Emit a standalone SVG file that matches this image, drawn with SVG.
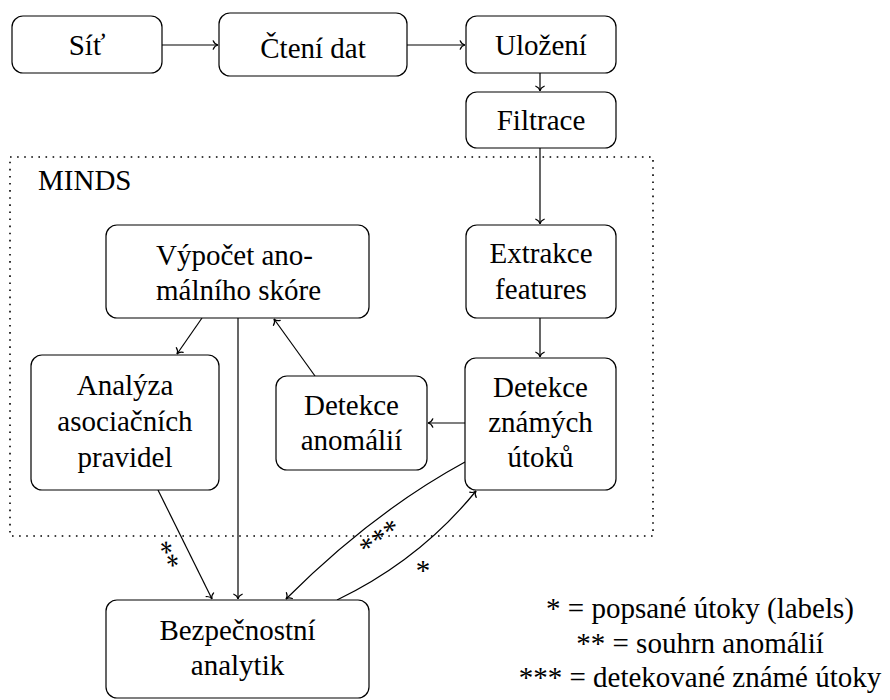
<svg xmlns="http://www.w3.org/2000/svg" width="890" height="700" viewBox="0 0 890 700">
<style>
  .box { fill: #ffffff; stroke: #000000; stroke-width: 1.2; }
  .t { font-family: "Liberation Serif", "Times New Roman", serif; font-size: 29px; fill: #000000; }
  .c { text-anchor: middle; }
  .edge { fill: none; stroke: #000000; stroke-width: 1.2; }
  .arr { marker-end: url(#to); }
  .frame { fill: none; stroke: #000000; stroke-width: 1.6; stroke-dasharray: 1.6 5.5; }
</style>
<defs>
  <marker id="to" viewBox="-6 -6 8 12" markerWidth="8" markerHeight="12" refX="0" refY="0" orient="auto" markerUnits="userSpaceOnUse">
    <path d="M -4.8,-4.2 C -3.8,-1.6 -1.6,-0.3 0,0 C -1.6,0.3 -3.8,1.6 -4.8,4.2" fill="none" stroke="#000000" stroke-width="1.2" stroke-linecap="round"/>
  </marker>
</defs>

<rect class="frame" x="10" y="157" width="643" height="379"/>
<text class="t" x="38" y="190">MINDS</text>

<g id="connectors">
  <line class="edge arr" x1="162" y1="45" x2="218" y2="45"/>
  <line class="edge arr" x1="407" y1="45" x2="465" y2="45"/>
  <line class="edge arr" x1="540" y1="73" x2="540" y2="91"/>
  <line class="edge arr" x1="540" y1="148" x2="540" y2="224"/>
  <line class="edge arr" x1="540" y1="318" x2="540" y2="357"/>
  <line class="edge arr" x1="465" y1="423" x2="428" y2="423"/>
  <line class="edge arr" x1="315" y1="376" x2="274" y2="319"/>
  <line class="edge arr" x1="202" y1="318" x2="177" y2="354"/>
  <line class="edge arr" x1="238" y1="318" x2="238" y2="599"/>
  <line class="edge arr" x1="158" y1="490" x2="212" y2="599"/>
  <path class="edge arr" d="M 465,462 Q 373,512 286,599"/>
  <path class="edge arr" d="M 337,600 Q 420,560 476,491"/>
  <text class="t c" transform="translate(170.5,553.5) rotate(64)" x="0" y="15">**</text>
  <text class="t c" transform="translate(377,534) rotate(-36)" x="0" y="15">***</text>
  <text class="t c" transform="translate(423,565)" x="0" y="15">*</text>
</g>

<g id="sit">
  <rect class="box" x="12" y="16" width="150" height="57" rx="11"/>
  <text class="t c" x="87" y="55">Síť</text>
</g>
<g id="cteni">
  <rect class="box" x="219" y="13" width="188" height="63" rx="11"/>
  <text class="t c" x="313" y="58">Čtení dat</text>
</g>
<g id="ulozeni">
  <rect class="box" x="466" y="16" width="150" height="57" rx="11"/>
  <text class="t c" x="541" y="55">Uložení</text>
</g>
<g id="filtrace">
  <rect class="box" x="466" y="92" width="150" height="56" rx="11"/>
  <text class="t c" x="541" y="130">Filtrace</text>
</g>
<g id="vypocet">
  <rect class="box" x="106" y="225" width="263" height="93" rx="11"/>
  <text class="t" x="156" y="265">Výpočet ano-</text>
  <text class="t" x="156" y="300">málního skóre</text>
</g>
<g id="extrakce">
  <rect class="box" x="466" y="225" width="150" height="93" rx="11"/>
  <text class="t c" x="541" y="263">Extrakce</text>
  <text class="t c" x="541" y="299">features</text>
</g>
<g id="analyza">
  <rect class="box" x="31" y="355" width="188" height="135" rx="11"/>
  <text class="t c" x="125" y="395">Analýza</text>
  <text class="t c" x="125" y="431">asociačních</text>
  <text class="t c" x="125" y="467">pravidel</text>
</g>
<g id="detekce-anomalii">
  <rect class="box" x="276" y="376" width="151" height="94" rx="11"/>
  <text class="t c" x="351.5" y="415">Detekce</text>
  <text class="t c" x="351.5" y="450">anomálií</text>
</g>
<g id="detekce-znamych">
  <rect class="box" x="465" y="358" width="151" height="132" rx="11"/>
  <text class="t c" x="540.5" y="397">Detekce</text>
  <text class="t c" x="540.5" y="432">známých</text>
  <text class="t c" x="540.5" y="467">útoků</text>
</g>
<g id="analytik">
  <rect class="box" x="106" y="600" width="263" height="98" rx="11"/>
  <text class="t c" x="237.5" y="640">Bezpečnostní</text>
  <text class="t c" x="237.5" y="675">analytik</text>
</g>

<g id="legend">
  <text class="t c" x="700" y="618">* = popsané útoky (labels)</text>
  <text class="t c" x="700" y="653">** = souhrn anomálií</text>
  <text class="t c" x="700" y="687">*** = detekované známé útoky</text>
</g>
</svg>
